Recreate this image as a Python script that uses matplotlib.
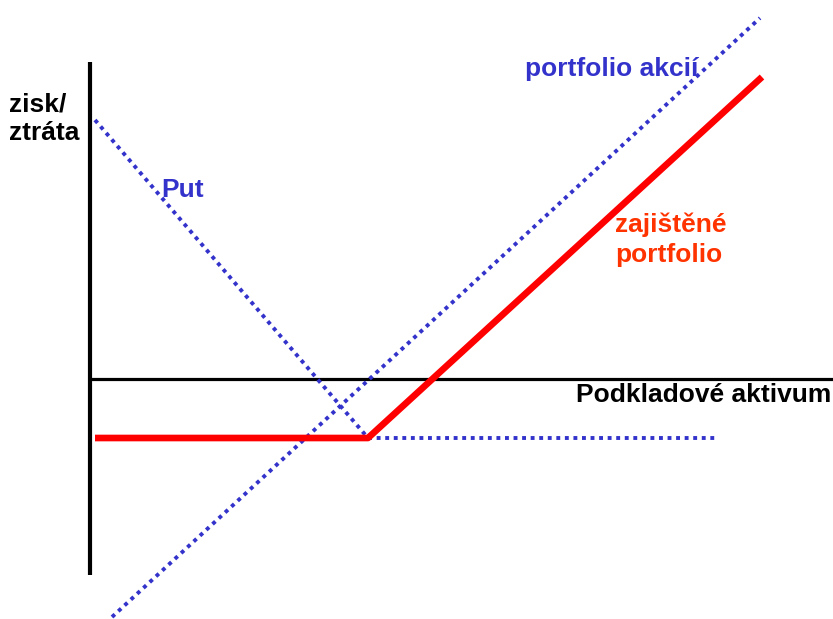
import matplotlib.pyplot as plt

plt.rcParams['font.family'] = ['Liberation Sans', 'DejaVu Sans']

# coordinates: x = underlying price offset, y = profit/loss (origin where the axes cross)
put_x = [5, 278, 627]
put_y = [259, -59, -59]

stock_x = [22, 670]
stock_y = [-238, 361]

hedged_x = [5, 278, 672]
hedged_y = [-59, -59, 302]

axis_h_x = [0, 743]
axis_v_y = [-196, 317]

blue = '#3333CC'
red = '#FF0000'
text_red = '#FF3300'

fig = plt.figure(figsize=(8.33, 6.19), dpi=100)
ax = fig.add_axes([0, 0, 1, 1])
ax.set_xlim(-90, 743)
ax.set_ylim(-240, 379)
ax.axis('off')

# axes drawn as lines
ax.plot(axis_h_x, [0, 0], color='black', lw=2.3, solid_capstyle='butt')
ax.plot([0, 0], axis_v_y, color='black', lw=3, solid_capstyle='butt')

dots = dict(color=blue, lw=2.8, linestyle=(0, (1, 1.2)), dash_capstyle='butt')
ax.plot(put_x, put_y, **dots)
ax.plot(stock_x, stock_y, **dots)
ax.plot(hedged_x, hedged_y, color=red, lw=4.8, solid_capstyle='butt')

bold = dict(fontsize=19, fontweight='bold', va='baseline')
ax.text(-81, 267, 'zisk/', color='black', **bold)
ax.text(-81, 239, 'ztráta', color='black', **bold)
ax.text(486, -23, 'Podkladové aktivum', color='black', **bold)
ax.text(71, 182, 'Put', color=blue, **bold)
ax.text(435, 303, 'portfolio akcií', color=blue, **bold)
ax.text(525, 147, 'zajištěné', color=text_red, **bold)
ax.text(525, 117, 'portfolio', color=text_red, **bold)

fig.savefig('out.png', dpi=100)
